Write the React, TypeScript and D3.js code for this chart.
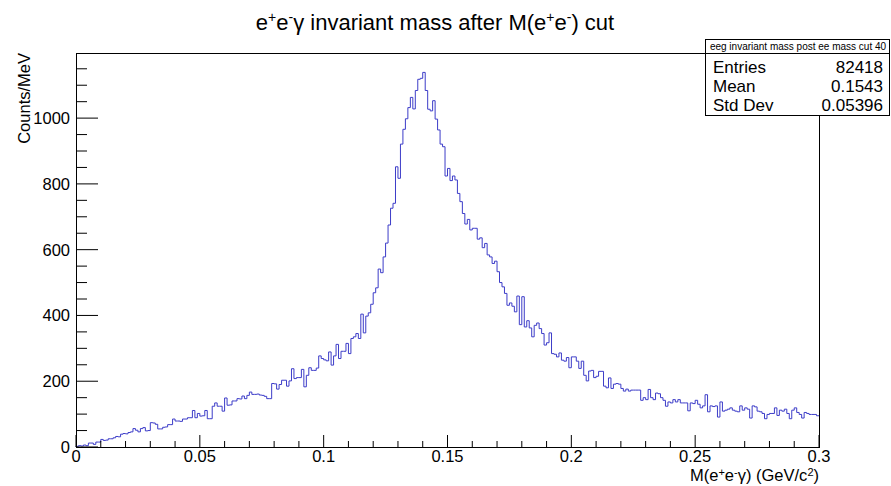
import React from 'react';
import * as d3 from 'd3';

// Bin contents (1 MeV bins, 0 - 0.3 GeV)
const BIN_COUNTS: number[] = [
  2, 4, 3, 6, 4, 12, 12, 8, 15, 15,
  23, 20, 21, 25, 25, 28, 32, 31, 39, 41,
  40, 44, 46, 56, 51, 46, 56, 59, 49, 50,
  74, 73, 69, 55, 55, 60, 61, 68, 68, 85,
  79, 79, 78, 85, 85, 89, 89, 111, 89, 102,
  94, 95, 111, 86, 86, 124, 134, 124, 124, 109,
  149, 127, 128, 140, 140, 147, 146, 155, 147, 157,
  167, 160, 160, 161, 158, 157, 154, 147, 147, 193,
  192, 176, 190, 203, 203, 185, 201, 238, 208, 211,
  211, 236, 183, 218, 241, 233, 233, 240, 277, 269,
  265, 262, 289, 249, 277, 312, 269, 291, 291, 315,
  284, 330, 335, 345, 330, 404, 347, 398, 408, 434,
  469, 484, 541, 530, 578, 620, 675, 726, 741, 852,
  817, 921, 966, 998, 1032, 1063, 1028, 1084, 1118, 1121,
  1139, 1084, 1027, 1022, 1053, 997, 964, 921, 913, 824,
  847, 810, 824, 812, 771, 746, 710, 678, 692, 660,
  665, 665, 632, 636, 606, 619, 584, 578, 558, 565,
  533, 500, 487, 467, 431, 438, 428, 411, 459, 372,
  457, 365, 384, 362, 335, 370, 377, 360, 345, 310,
  317, 347, 284, 282, 274, 286, 264, 261, 272, 241,
  274, 274, 261, 239, 261, 218, 201, 231, 233, 211,
  215, 230, 230, 185, 180, 210, 178, 191, 193, 191,
  178, 170, 176, 170, 173, 173, 173, 173, 142, 150,
  144, 175, 150, 144, 164, 162, 150, 142, 124, 137,
  134, 144, 137, 144, 134, 134, 134, 110, 134, 132,
  142, 130, 119, 125, 159, 107, 125, 123, 125, 91,
  137, 109, 112, 115, 119, 112, 109, 107, 125, 112,
  119, 115, 88, 125, 122, 109, 107, 102, 86, 99,
  102, 102, 119, 96, 112, 109, 115, 102, 86, 112,
  119, 105, 99, 88, 105, 102, 99, 99, 99, 95,
];

const X_RANGE = [0, 0.3];
const Y_RANGE = [0, 1198];
const X_TICKS = [0, 0.05, 0.1, 0.15, 0.2, 0.25, 0.3];
const X_TICK_LABELS = ['0', '0.05', '0.1', '0.15', '0.2', '0.25', '0.3'];
const Y_TICKS = [0, 200, 400, 600, 800, 1000];
const Y_TICK_LABELS = ['0', '200', '400', '600', '800', '1000'];
const STATS_TITLE = 'eeg invariant mass post ee mass cut 40';
const STATS_LABELS = ['Entries', 'Mean', 'Std Dev'];
const STATS_VALUES = ['82418', '0.1543', '0.05396'];

const FONT = '"Liberation Sans", Arial, Helvetica, sans-serif';

export default function App() {
  const W = 891, H = 486;
  const left = 76, right = 819, top = 53, bottom = 447;
  const x = d3.scaleLinear().domain(X_RANGE).range([left, right]);
  const y = d3.scaleLinear().domain(Y_RANGE).range([bottom, top]);

  const nb = BIN_COUNTS.length;
  const bw = (X_RANGE[1] - X_RANGE[0]) / nb;
  const pts: [number, number][] = [[X_RANGE[0], 0]];
  BIN_COUNTS.forEach((v, i) => pts.push([X_RANGE[0] + i * bw, v]));
  pts.push([X_RANGE[1], BIN_COUNTS[nb - 1]]);
  const line = d3.line<[number, number]>()
    .x(d => x(d[0]))
    .y(d => y(d[1]))
    .curve(d3.curveStepAfter);

  const xMinor = d3.range(0, 31).map(i => i * 0.01).filter((_, i) => i % 5 !== 0);
  const yMinor = d3.range(0, 24).map(i => i * 50).filter(v => v % 200 !== 0 && v <= Y_RANGE[1]);

  const sup = 14;
  const tickFs = 16.5;
  return (
    <svg width={W} height={H} style={{ position: 'absolute', left: 0, top: 0, background: '#fff' }}
      fontFamily={FONT}>
      <rect x={0} y={0} width={W} height={H} fill="#fff" />
      {/* title */}
      <text x={435} y={30} fontSize={22} textAnchor="middle" fill="#000">
        e<tspan fontSize={sup} dy={-8}>+</tspan><tspan dy={8}>e</tspan><tspan fontSize={sup} dy={-8}>-</tspan>
        <tspan dy={8}>γ invariant mass after M(e</tspan><tspan fontSize={sup} dy={-8}>+</tspan>
        <tspan dy={8}>e</tspan><tspan fontSize={sup} dy={-8}>-</tspan><tspan dy={8}>) cut</tspan>
      </text>

      {/* histogram */}
      <path d={line(pts) || ''} fill="none" stroke="#3c3cc8" strokeWidth={1} />

      {/* frame */}
      <rect x={left + 0.5} y={top + 0.5} width={right - left} height={bottom - top} fill="none" stroke="#000" strokeWidth={1} />

      {/* x ticks */}
      {X_TICKS.map((t, i) => (
        <g key={'xt' + i}>
          <line x1={x(t)} x2={x(t)} y1={bottom} y2={bottom - 12} stroke="#000" />
          <text x={x(t)} y={462} fontSize={tickFs} textAnchor="middle">{X_TICK_LABELS[i]}</text>
        </g>
      ))}
      {xMinor.map((t, i) => (
        <line key={'xm' + i} x1={x(t)} x2={x(t)} y1={bottom} y2={bottom - 6} stroke="#000" />
      ))}
      {/* y ticks */}
      {Y_TICKS.map((t, i) => (
        <g key={'yt' + i}>
          <line x1={left} x2={left + 22} y1={y(t)} y2={y(t)} stroke="#000" />
          <text x={70} y={y(t) + 6} fontSize={tickFs} textAnchor="end">{Y_TICK_LABELS[i]}</text>
        </g>
      ))}
      {yMinor.map((t, i) => (
        <line key={'ym' + i} x1={left} x2={left + 11} y1={y(t)} y2={y(t)} stroke="#000" />
      ))}

      {/* axis titles */}
      <text x={right} y={481} fontSize={16.5} textAnchor="end">
        M(e<tspan fontSize={11} dy={-5}>+</tspan><tspan dy={5}>e</tspan><tspan fontSize={11} dy={-5}>-</tspan>
        <tspan dy={5}>γ) (GeV/c</tspan><tspan fontSize={11} dy={-5}>2</tspan><tspan dy={5}>)</tspan>
      </text>
      <text transform={`translate(30, ${top}) rotate(-90)`} fontSize={16.5} textAnchor="end">Counts/MeV</text>

      {/* stats box */}
      <rect x={705.5} y={39.5} width={184} height={76} fill="#fff" stroke="#000" />
      <line x1={705} x2={890} y1={53.5} y2={53.5} stroke="#000" />
      <text x={798} y={49.5} fontSize={10} textAnchor="middle">{STATS_TITLE}</text>
      {STATS_LABELS.map((l, i) => (
        <g key={'s' + i}>
          <text x={713} y={73 + i * 19} fontSize={17}>{l}</text>
          <text x={883} y={73 + i * 19} fontSize={17} textAnchor="end">{STATS_VALUES[i]}</text>
        </g>
      ))}
    </svg>
  );
}
